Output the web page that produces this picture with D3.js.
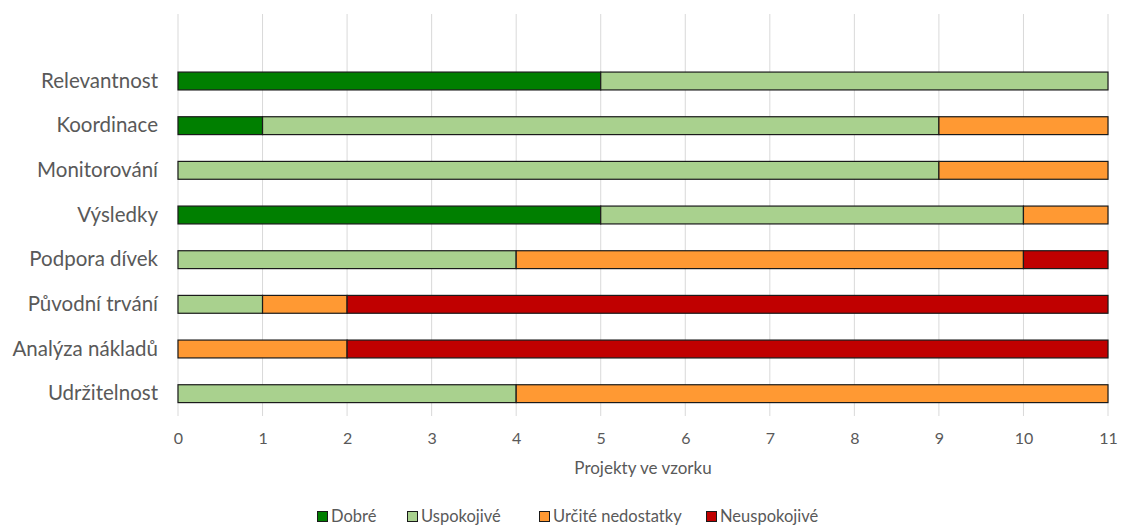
<!DOCTYPE html>
<html>
<head>
<meta charset="utf-8">
<script src="https://cdn.jsdelivr.net/npm/d3@7"></script>
<style>
  html, body { margin: 0; padding: 0; background: #fff; }
  svg { display: block; font-family: Lato, "Open Sans", sans-serif; }
</style>
</head>
<body>
<svg id="chart" width="1121" height="527"></svg>
<script>
// Hodnocení projektů ve vzorku podle kritérií
const categories = ["Relevantnost", "Koordinace", "Monitorování", "Výsledky",
  "Podpora dívek", "Původní trvání", "Analýza nákladů", "Udržitelnost"];
const seriesNames = ["Dobré", "Uspokojivé", "Určité nedostatky", "Neuspokojivé"];
const dobre       = [5, 1, 0, 5, 0, 0, 0, 0];
const uspokojive  = [6, 8, 9, 5, 4, 1, 0, 4];
const nedostatky  = [0, 2, 2, 1, 6, 1, 2, 7];
const neuspokojive= [0, 0, 0, 0, 1, 9, 9, 0];
const xTicks = [0, 1, 2, 3, 4, 5, 6, 7, 8, 9, 10, 11];
const colors = ["#007F00", "#A9D18E", "#FF9933", "#C00000"];

const seriesValues = [dobre, uspokojive, nedostatky, neuspokojive];
const rows = categories.map((c, i) => {
  const r = { category: c };
  seriesNames.forEach((s, k) => { r[s] = seriesValues[k][i]; });
  return r;
});
const stacked = d3.stack().keys(seriesNames)(rows);

const svg = d3.select("#chart");
const plotLeft = 178, plotRight = 1108, plotTop = 14, plotBottom = 416;
// one empty slot above the first category
const slot = (plotBottom - plotTop) / (categories.length + 1);

const x = d3.scaleLinear().domain([0, 11]).range([plotLeft, plotRight]);
const y = d3.scaleBand().domain(categories).range([plotTop + slot, plotBottom])
  .paddingInner(0.6).paddingOuter(0.3);

// svislé mřížky
svg.append("g").selectAll("line").data(xTicks).join("line")
  .attr("x1", d => x(d)).attr("x2", d => x(d))
  .attr("y1", plotTop).attr("y2", plotBottom)
  .attr("stroke", "#d9d9d9").attr("stroke-width", 1);

// pruhy
svg.append("g").selectAll("g").data(stacked).join("g")
  .attr("fill", (d, i) => colors[i])
  .selectAll("rect").data(d => d.filter(p => p[1] - p[0] > 0)).join("rect")
  .attr("x", d => x(d[0]))
  .attr("width", d => x(d[1]) - x(d[0]))
  .attr("y", d => y(d.data.category))
  .attr("height", y.bandwidth())
  .attr("stroke", "#1a1a1a").attr("stroke-width", 1.2);

// osa y
const yAxis = d3.axisLeft(y).tickSize(0).tickPadding(20);
const gy = svg.append("g").attr("transform", `translate(${plotLeft},0)`).call(yAxis);
gy.select(".domain").remove();
gy.selectAll("text").attr("font-size", 20.5).attr("fill", "#595959")
  .attr("font-family", "Lato, sans-serif");

// osa x
const xAxis = d3.axisBottom(x).tickValues(xTicks).tickSize(0).tickPadding(17).tickFormat(d3.format("d"));
const gx = svg.append("g").attr("transform", `translate(0,${plotBottom})`).call(xAxis);
gx.select(".domain").remove();
gx.selectAll("text").attr("font-size", 16).attr("fill", "#595959")
  .attr("font-family", "Lato, sans-serif");

svg.append("text")
  .attr("x", (plotLeft + plotRight) / 2).attr("y", 474)
  .attr("text-anchor", "middle").attr("font-size", 17).attr("fill", "#595959")
  .text("Projekty ve vzorku");

// legenda
const legendX = [317, 407, 539, 706];
const lg = svg.append("g").selectAll("g").data(seriesNames).join("g")
  .attr("transform", (d, i) => `translate(${legendX[i]},511)`);
lg.append("rect").attr("x", 0.5).attr("y", 0.5).attr("width", 10).attr("height", 10)
  .attr("fill", (d, i) => colors[i]).attr("stroke", "#1a1a1a").attr("stroke-width", 1);
lg.append("text").attr("x", 14).attr("y", 11).attr("font-size", 16.5).attr("fill", "#595959")
  .text(d => d);
</script>
</body>
</html>
